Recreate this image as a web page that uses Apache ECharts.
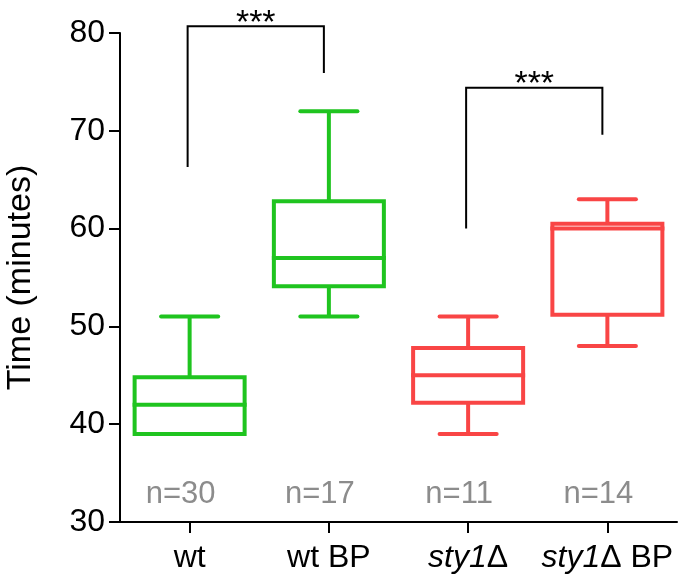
<!DOCTYPE html>
<html>
<head>
<meta charset="utf-8">
<script src="https://cdn.jsdelivr.net/npm/echarts@6/dist/echarts.min.js"></script>
<style>html,body{margin:0;padding:0;background:#fff;}#c{width:683px;height:578px;}</style>
</head>
<body>
<div id="c"></div>
<script>
// categories
const categories = ['wt', 'wt BP', 'sty1Δ', 'sty1Δ BP'];
// box stats: [min, Q1, median, Q3, max]
const boxStats = [
  [39, 39, 42, 44.8, 51],
  [51, 54.1, 57, 62.8, 72],
  [39, 42.2, 45, 47.8, 51],
  [48, 51.2, 60, 60.5, 63]
];
const boxColors = ['#1fc41f', '#1fc41f', '#f94545', '#f94545'];
const nLabels = ['n=30', 'n=17', 'n=11', 'n=14'];
// brackets: [leftCategory, rightCategory, leftBottom, top, rightBottom]
const brackets = [
  [0, 1, 66.3, 80.7, 75.9],
  [2, 3, 60, 74.4, 69.6]
];
const bracketLabels = ['***', '***'];
const yTicks = { min: 30, max: 80, interval: 10 };

const FONT = 'Liberation Sans, Arial, sans-serif';
const chart = echarts.init(document.getElementById('c'));

function boxRender(params, api) {
  const i = params.dataIndex;
  const idx = api.value(0);
  const vmin = api.value(1), q1 = api.value(2), med = api.value(3), q3 = api.value(4), vmax = api.value(5);
  const bandW = api.size([1, 0])[0];
  const halfBox = bandW * 0.395;
  const halfCap = bandW * 0.205;
  const cx = api.coord([idx, med])[0];
  const y = v => api.coord([idx, v])[1];
  const color = boxColors[i];
  const LW = 4;
  const ch = [];
  ch.push({ type: 'rect', shape: { x: cx - halfBox, y: y(q3), width: 2 * halfBox, height: y(q1) - y(q3) }, style: { stroke: color, lineWidth: LW, fill: null } });
  ch.push({ type: 'line', shape: { x1: cx - halfBox - 2, y1: y(med), x2: cx + halfBox + 2, y2: y(med) }, style: { stroke: color, lineWidth: LW } });
  if (vmax > q3) {
    ch.push({ type: 'line', shape: { x1: cx, y1: y(q3), x2: cx, y2: y(vmax) }, style: { stroke: color, lineWidth: LW } });
    ch.push({ type: 'line', shape: { x1: cx - halfCap, y1: y(vmax), x2: cx + halfCap, y2: y(vmax) }, style: { stroke: color, lineWidth: LW, lineCap: 'round' } });
  }
  if (vmin < q1) {
    ch.push({ type: 'line', shape: { x1: cx, y1: y(q1), x2: cx, y2: y(vmin) }, style: { stroke: color, lineWidth: LW } });
    ch.push({ type: 'line', shape: { x1: cx - halfCap, y1: y(vmin), x2: cx + halfCap, y2: y(vmin) }, style: { stroke: color, lineWidth: LW, lineCap: 'round' } });
  }
  ch.push({ type: 'text', style: { text: nLabels[i], x: cx - 9, y: y(yTicks.min) - 28, align: 'center', verticalAlign: 'middle', fill: '#8c8c8c', font: '31px ' + FONT } });
  return { type: 'group', children: ch };
}

function bracketRender(params, api) {
  const i = params.dataIndex;
  const li = api.value(0), ri = api.value(1);
  const lb = api.value(2), top = api.value(3), rb = api.value(4);
  const lx = api.coord([li, lb])[0] - 2;
  const rx = api.coord([ri, rb])[0] - 5;
  const ly = api.coord([li, lb])[1];
  const ty = api.coord([li, top])[1];
  const ry = api.coord([ri, rb])[1];
  return {
    type: 'group',
    children: [
      { type: 'polyline', shape: { points: [[lx, ly], [lx, ty], [rx, ty], [rx, ry]] }, style: { stroke: '#000', lineWidth: 2, fill: null } },
      { type: 'text', style: { text: bracketLabels[i], x: (lx + rx) / 2, y: ty - 3, align: 'center', verticalAlign: 'middle', fill: '#000', font: '34px ' + FONT } }
    ]
  };
}

const option = {
  animation: false,
  backgroundColor: '#fff',
  grid: { left: 120, right: 6, top: 33, bottom: 56, containLabel: false, outerBoundsMode: 'none' },
  xAxis: {
    type: 'category',
    data: categories,
    boundaryGap: true,
    axisLine: { show: true, lineStyle: { color: '#000', width: 2 } },
    axisTick: { show: true, alignWithLabel: true, length: 11, lineStyle: { color: '#000', width: 2 } },
    axisLabel: {
      interval: 0,
      margin: 20,
      color: '#000',
      fontFamily: FONT,
      fontSize: 32,
      formatter: function (v) {
        if (v.indexOf('sty1') === 0) {
          return '{i|sty1}{n|' + v.slice(4) + '}';
        }
        return '{n|' + v + '}';
      },
      rich: {
        i: { fontStyle: 'italic', fontFamily: FONT, fontSize: 32, color: '#000' },
        n: { fontFamily: FONT, fontSize: 32, color: '#000' }
      }
    },
    splitLine: { show: false }
  },
  yAxis: {
    type: 'value',
    min: yTicks.min,
    max: yTicks.max,
    interval: yTicks.interval,
    name: 'Time (minutes)',
    nameLocation: 'middle',
    nameGap: 82,
    nameTextStyle: { color: '#000', fontFamily: FONT, fontSize: 34 },
    axisLine: { show: true, lineStyle: { color: '#000', width: 2 } },
    axisTick: { show: true, length: 11, lineStyle: { color: '#000', width: 2 } },
    axisLabel: { margin: 15, color: '#000', fontFamily: FONT, fontSize: 32 },
    splitLine: { show: false }
  },
  series: [
    {
      type: 'custom',
      renderItem: boxRender,
      encode: { x: 0, y: [1, 2, 3, 4, 5] },
      data: boxStats.map((s, i) => [i].concat(s)),
      z: 3
    },
    {
      type: 'custom',
      renderItem: bracketRender,
      encode: { x: [0, 1], y: [2, 3, 4] },
      data: brackets,
      clip: false,
      z: 4
    }
  ]
};
chart.setOption(option);
</script>
</body>
</html>
